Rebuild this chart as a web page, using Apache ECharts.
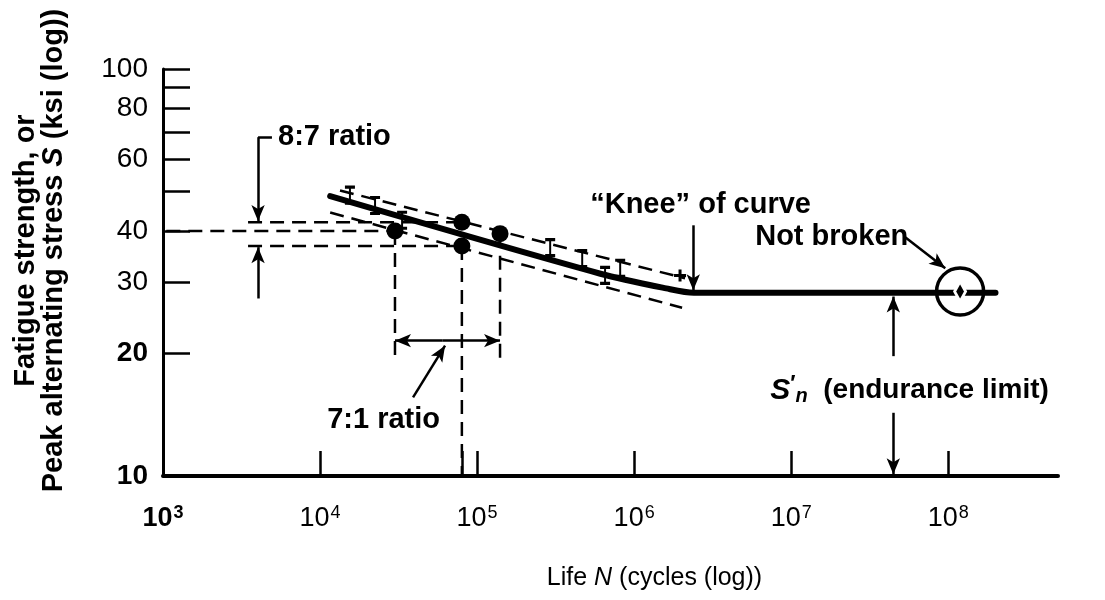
<!DOCTYPE html>
<html>
<head>
<meta charset="utf-8">
<script src="https://cdn.jsdelivr.net/npm/echarts@6/dist/echarts.min.js"></script>
<style>
  html, body { margin: 0; padding: 0; background: #fff; }
  #chart { width: 1105px; height: 600px; }
</style>
</head>
<body>
<div id="chart"></div>
<script>
// axis ticks and labels
const yTicks = [10, 20, 30, 40, 50, 60, 70, 80, 90, 100]
const yLabels = [10, 20, 30, 40, 60, 80, 100]
const yBold = [10, 20]
const xTicks = [1e4, 8e4, 1e5, 1e6, 1e7, 1e8]
const xLabels = [1e3, 1e4, 1e5, 1e6, 1e7, 1e8]

// S-N curve (life N in cycles, stress S in ksi)
const snCurve = [[1.16e4, 48.7], [6.1e5, 31.4], [1.6e6, 28.9], [2.4e6, 28.2], [2.0e8, 28.2]]
const bandUpper = [[1.34e4, 50.3], [2.11e6, 30.6]]
const bandLower = [[1.16e4, 44.4], [2.02e6, 25.9]]
const testPoints = [[3.0e4, 40], [8e4, 42], [8e4, 36.75], [1.4e5, 39.4]]
const scatterBars = [[1.55e4, 49], [2.24e4, 46.2], [3.33e4, 42.5], [2.92e5, 36.4], [4.67e5, 34.2], [6.53e5, 31.1], [8.15e5, 32.4]]
const crossMarks = [[1.96e6, 31.1]]
const notBroken = [[1.19e8, 28.4]]

// dimension guides
const ratioTop = [[3.48e3, 42], [8e4, 42]]
const ratioMid = [[1.05e3, 40], [3.0e4, 40]]
const ratioBottom = [[3.48e3, 36.75], [8e4, 36.75]]
const dropLeft = [[3.0e4, 40], [3.0e4, 19.5]]
const dropMid = [[8e4, 36.75], [8e4, 10]]
const dropRight = [[1.4e5, 39.4], [1.4e5, 19.5]]

const arrows = [
  [[4.03e3, 68], [4.03e3, 42.3]],
  [[4.03e3, 27.3], [4.03e3, 36.5]],
  [[6.0e4, 21.5], [3.0e4, 21.5]],
  [[6.0e4, 21.5], [1.4e5, 21.5]],
  [[3.91e4, 15.6], [6.25e4, 20.9]],
  [[2.38e6, 41.3], [2.38e6, 28.6]],
  [[5.32e7, 38.6], [9.57e7, 32.4]],
  [[4.47e7, 19.7], [4.47e7, 27.6]],
  [[4.47e7, 14.3], [4.47e7, 10.1]]
]
const plainLines = [
  [[4.03e3, 68], [4.94e3, 68]]
]

const notes = [
  { value: [5.4e3, 68], name: '8:7 ratio' },
  { value: [1.11e4, 13.7], name: '7:1 ratio' },
  { value: [5.25e5, 46.2], name: '\u201cKnee\u201d of curve' },
  { value: [5.9e6, 38.6], name: 'Not broken' },
  { value: [7.35e6, 16.2], name: '{s|S}{p|\u2032}{sub|n}{t|  (endurance limit)}' }
]

const font = 'Liberation Sans'
const ink = '#000'

function dashed(name, data) {
  return {
    name, type: 'line', data, symbol: 'none', silent: true,
    lineStyle: { color: ink, width: 2.5, type: [14, 8] }, z: 2
  }
}

const chart = echarts.init(document.getElementById('chart'))
chart.setOption({
  animation: false,
  backgroundColor: '#fff',
  textStyle: { fontFamily: font, color: ink },
  grid: { left: 163, right: 47, top: 69, bottom: 124, outerBoundsMode: 'none' },
  xAxis: {
    type: 'log', logBase: 10, min: 1e3, max: 5e8,
    axisLine: { onZero: false, lineStyle: { color: ink, width: 4 } },
    axisTick: { show: true, inside: true, length: 25, customValues: xTicks, lineStyle: { color: ink, width: 2.5 } },
    minorTick: { show: false },
    splitLine: { show: false },
    axisLabel: {
      customValues: xLabels, margin: 28, hideOverlap: false, color: ink,
      formatter: (v) => {
        const e = Math.round(Math.log10(v))
        return e === 3 ? '{bb|10}{bs|' + e + '}' : '{n|10}{ns|' + e + '}'
      },
      rich: {
        n: { fontSize: 27, fontFamily: font, color: ink },
        ns: { fontSize: 18, fontFamily: font, color: ink, verticalAlign: 'bottom', padding: [0, 0, 12, 1] },
        bb: { fontSize: 27, fontFamily: font, fontWeight: 'bold', color: ink },
        bs: { fontSize: 18, fontFamily: font, fontWeight: 'bold', color: ink, verticalAlign: 'bottom', padding: [0, 0, 12, 1] }
      }
    },
    name: '{a|Life }{i|N}{a| (cycles (log))}',
    nameLocation: 'middle', nameGap: 90,
    nameTextStyle: {
      padding: [0, 0, 0, 88],
      rich: {
        a: { fontSize: 25, fontFamily: font, color: ink },
        i: { fontSize: 25, fontFamily: font, fontStyle: 'italic', color: ink }
      }
    }
  },
  yAxis: {
    type: 'log', logBase: 10, min: 10, max: 100,
    axisLine: { lineStyle: { color: ink, width: 3 } },
    axisTick: { show: true, inside: true, length: 27, customValues: yTicks, lineStyle: { color: ink, width: 2.5 } },
    minorTick: { show: false },
    splitLine: { show: false },
    axisLabel: {
      customValues: yLabels, margin: 15, hideOverlap: false, color: ink,
      formatter: (v) => (yBold.includes(v) ? '{b|' + v + '}' : '{n|' + v + '}'),
      rich: {
        n: { fontSize: 28, fontFamily: font, color: ink },
        b: { fontSize: 28, fontFamily: font, fontWeight: 'bold', color: ink }
      }
    },
    name: '{a|Fatigue strength, or}\n{a|Peak alternating stress }{i|S}{a| (ksi (log))}',
    nameLocation: 'middle', nameRotate: 90, nameGap: 95,
    nameTextStyle: {
      padding: [0, 0, 0, 44],
      rich: {
        a: { fontSize: 29, fontFamily: font, fontWeight: 'bold', color: ink, lineHeight: 28 },
        i: { fontSize: 29, fontFamily: font, fontWeight: 'bold', fontStyle: 'italic', color: ink, lineHeight: 28 }
      }
    }
  },
  series: [
    dashed('bandUpper', bandUpper),
    dashed('bandLower', bandLower),
    dashed('ratioTop', ratioTop),
    dashed('ratioMid', ratioMid),
    dashed('ratioBottom', ratioBottom),
    dashed('dropLeft', dropLeft),
    dashed('dropMid', dropMid),
    dashed('dropRight', dropRight),
    {
      name: 'S-N curve', type: 'line', data: snCurve, symbol: 'none', smooth: 0.3, silent: true,
      lineStyle: { color: ink, width: 6, cap: 'round' }, z: 4
    },
    {
      name: 'tests', type: 'scatter', data: testPoints, symbol: 'circle', symbolSize: 17,
      itemStyle: { color: ink, opacity: 1 }, z: 5
    },
    {
      name: 'scatter bars', type: 'scatter', data: scatterBars,
      symbol: 'path://M0 0H10M5 0V18M0 18H10', symbolSize: [10, 16],
      itemStyle: { color: 'transparent', borderColor: ink, borderWidth: 2.5, opacity: 1 }, z: 5
    },
    {
      name: 'cross', type: 'scatter', data: crossMarks,
      symbol: 'path://M0 5H10M5 0V10', symbolSize: 12,
      itemStyle: { color: 'transparent', borderColor: ink, borderWidth: 3, opacity: 1 }, z: 5
    },
    {
      name: 'not broken', type: 'scatter', data: notBroken, symbol: 'circle', symbolSize: 47,
      itemStyle: { color: 'transparent', borderColor: ink, borderWidth: 3.5, opacity: 1 }, z: 6
    },
    {
      name: 'not broken mark', type: 'scatter', data: notBroken, symbol: 'diamond', symbolSize: [11, 20],
      itemStyle: { color: ink, borderColor: '#fff', borderWidth: 3, opacity: 1 }, z: 7
    },
    {
      name: 'guides', type: 'line', data: [], silent: true,
      markLine: {
        silent: true, animation: false,
        symbol: ['none', 'arrow'], symbolSize: [10, 16],
        label: { show: false },
        lineStyle: { color: ink, width: 2.5, type: 'solid' },
        data: arrows.map(([a, b]) => [{ coord: a }, { coord: b }])
          .concat(plainLines.map(([a, b]) => [{ coord: a, symbol: 'none' }, { coord: b, symbol: 'none' }]))
      }
    },
    {
      name: 'notes', type: 'scatter', data: notes, symbolSize: 0, silent: true, z: 8,
      itemStyle: { opacity: 1 },
      label: {
        show: true, position: 'right', distance: 0, color: ink,
        fontFamily: font, fontWeight: 'bold', fontSize: 29,
        formatter: (p) => p.name,
        rich: {
          s: { fontSize: 30, fontFamily: font, fontWeight: 'bold', fontStyle: 'italic', color: ink },
          p: { fontSize: 22, fontFamily: font, fontWeight: 'bold', color: ink, verticalAlign: 'bottom', padding: [0, 0, 14, 0] },
          sub: { fontSize: 20, fontFamily: font, fontWeight: 'bold', fontStyle: 'italic', color: ink, verticalAlign: 'top', padding: [14, 0, 0, 0] },
          t: { fontSize: 28, fontFamily: font, fontWeight: 'bold', color: ink }
        }
      }
    }
  ]
})
</script>
</body>
</html>
